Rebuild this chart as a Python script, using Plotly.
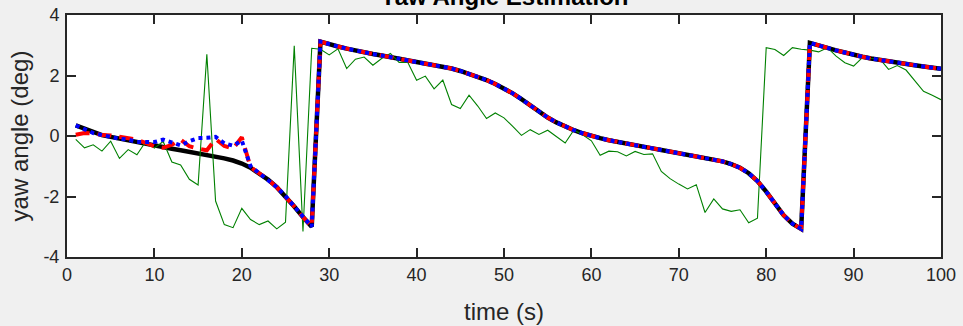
import plotly.graph_objects as go

# ---------------- data ----------------
time_s = list(range(1, 101))

yaw_true = [
    0.35, 0.23, 0.12, 0.03, -0.03, -0.09, -0.15, -0.21, -0.26, -0.32,
    -0.38, -0.42, -0.47, -0.52, -0.57, -0.62, -0.68, -0.74, -0.81, -0.91,
    -1.05, -1.23, -1.44, -1.69, -1.99, -2.33, -2.68, -3.00, 3.12, 3.03,
    2.96, 2.89, 2.82, 2.76, 2.71, 2.66, 2.61, 2.56, 2.51, 2.46,
    2.41, 2.36, 2.30, 2.23, 2.15, 2.06, 1.96, 1.85, 1.72, 1.58,
    1.41, 1.22, 1.02, 0.80, 0.61, 0.45, 0.31, 0.19, 0.09, 0.00,
    -0.07, -0.14, -0.20, -0.26, -0.31, -0.36, -0.41, -0.46, -0.51, -0.56,
    -0.61, -0.66, -0.71, -0.77, -0.84, -0.93, -1.05, -1.23, -1.49, -1.84,
    -2.25, -2.62, -2.90, -3.07, 3.08, 2.99, 2.91, 2.83, 2.76, 2.68,
    2.62, 2.56, 2.51, 2.46, 2.42, 2.38, 2.34, 2.30, 2.26, 2.22,
]

# red dashed estimate: first 21 seconds differ, then it tracks the truth
yaw_est_red_start = [
    0.04, 0.10, 0.09, 0.03, 0.02, -0.03, -0.06, -0.12, -0.23, -0.34,
    -0.39, -0.29, -0.12, -0.34, -0.42, -0.47, -0.10, -0.33, -0.42, -0.04,
    -1.03,
]
# blue dotted estimate: first 21 seconds differ, then it tracks the truth
yaw_est_blue_start = [
    0.35, 0.21, 0.10, 0.03, -0.04, -0.09, -0.12, -0.20, -0.20, -0.20,
    -0.12, -0.20, -0.31, -0.17, -0.07, -0.06, -0.03, -0.24, -0.32, -0.15,
    -1.00,
]
yaw_est_red = yaw_est_red_start + yaw_true[len(yaw_est_red_start):]
yaw_est_blue = yaw_est_blue_start + yaw_true[len(yaw_est_blue_start):]

# green noisy measurement
yaw_meas = [
    -0.11, -0.39, -0.29, -0.50, -0.17, -0.74, -0.45, -0.62, -0.19, -0.40,
    -0.18, -0.86, -0.96, -1.43, -1.62, 2.70, -2.15, -2.93, -3.03, -2.39,
    -2.76, -2.93, -2.81, -3.07, -2.85, 2.98, -3.16, 2.90, 2.87, 2.68,
    2.88, 2.23, 2.54, 2.61, 2.34, 2.56, 2.73, 2.43, 2.43, 1.84,
    1.98, 1.56, 1.85, 1.04, 0.91, 1.35, 0.99, 0.58, 0.76, 0.60,
    0.32, 0.02, 0.21, 0.05, 0.19, -0.02, -0.23, 0.20, 0.04, -0.16,
    -0.64, -0.50, -0.52, -0.66, -0.51, -0.61, -0.59, -1.17, -1.41, -1.59,
    -1.75, -1.61, -2.53, -2.08, -2.41, -2.49, -2.44, -2.87, -2.72, 2.92,
    2.86, 2.66, 2.92, 2.87, 2.84, 2.78, 2.92, 2.64, 2.42, 2.31,
    2.59, 2.56, 2.55, 2.20, 2.33, 2.18, 1.82, 1.48, 1.35, 1.20,
]

x_ticks = [0, 10, 20, 30, 40, 50, 60, 70, 80, 90, 100]
x_tick_labels = ["0", "10", "20", "30", "40", "50", "60", "70", "80", "90", "100"]
y_ticks = [-4, -2, 0, 2, 4]
y_tick_labels = ["-4", "-2", "0", "2", "4"]

title_text = "Yaw Angle Estimation"
x_label = "time (s)"
y_label = "yaw angle (deg)"

# ---------------- figure ----------------
AX = "#262626"
FONT = "Liberation Sans, Arial, sans-serif"

fig = go.Figure()
fig.add_trace(go.Scatter(x=time_s, y=yaw_true, mode="lines",
                         line=dict(color="#000000", width=4.5), name="true"))
fig.add_trace(go.Scatter(x=time_s, y=yaw_meas, mode="lines",
                         line=dict(color="#008000", width=1.1), name="measured"))
fig.add_trace(go.Scatter(x=time_s, y=yaw_est_red, mode="lines",
                         line=dict(color="#ff0000", width=4, dash="14px,8px"), name="est 1"))
fig.add_trace(go.Scatter(x=time_s, y=yaw_est_blue, mode="lines",
                         line=dict(color="#0000ff", width=4, dash="4px,4px"), name="est 2"))

fig.update_layout(
    width=963, height=326,
    margin=dict(l=67, r=22, t=15, b=69, autoexpand=False),
    paper_bgcolor="#f0f0f0",
    plot_bgcolor="#ffffff",
    showlegend=False,
    font=dict(family=FONT, color=AX, size=18),
)

axis_common = dict(
    showline=True, linecolor=AX, linewidth=2, mirror="ticks",
    ticks="inside", ticklen=9, tickwidth=1.5, tickcolor=AX,
    showgrid=False, zeroline=False, automargin=False,
    tickfont=dict(family=FONT, size=18, color=AX),
)
fig.update_xaxes(range=[0, 100], tickvals=x_ticks, ticktext=x_tick_labels,
                 title=dict(text=x_label, font=dict(family=FONT, size=24, color=AX), standoff=20),
                 **axis_common)
fig.update_yaxes(range=[-4, 4], tickvals=y_ticks, ticktext=y_tick_labels,
                 ticklabelstandoff=2,
                 title=dict(text=y_label, font=dict(family=FONT, size=24, color=AX), standoff=8),
                 **axis_common)

fig.add_annotation(text="<b>" + title_text + "</b>", xref="paper", yref="paper",
                   x=0.5, y=1, xanchor="center", yanchor="bottom", yshift=3,
                   showarrow=False, font=dict(family=FONT, size=24, color="#000000"))

fig.write_html(
    "out.html",
    config={"displayModeBar": False},
    post_script="document.body.style.margin='0';document.body.style.background='#f0f0f0';",
)
